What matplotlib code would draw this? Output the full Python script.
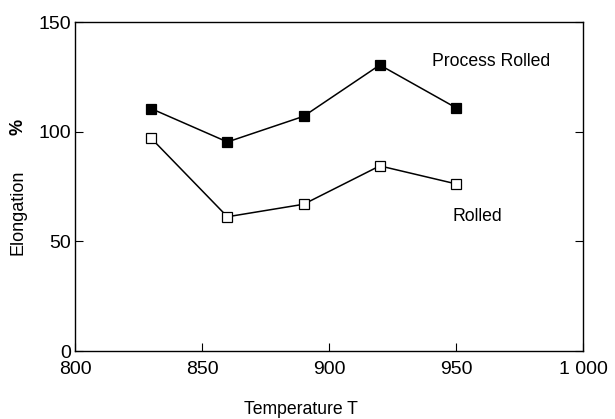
import matplotlib
matplotlib.use("Agg")
import matplotlib.pyplot as plt

plt.rcParams['font.family'] = ['Liberation Sans', 'DejaVu Sans']

temps = [830, 860, 890, 920, 950]
process_rolled = [110.5, 95.3, 107.0, 130.4, 110.9]
rolled = [97.0, 61.2, 66.9, 84.4, 76.2]

x_ticks = [800, 850, 900, 950, 1000]
x_tick_labels = ["800", "850", "900", "950", "1 000"]
y_ticks = [0, 50, 100, 150]
y_tick_labels = ["0", "50", "100", "150"]

fig = plt.figure(figsize=(6.15, 4.19), dpi=100)
ax = fig.add_axes([75/615, 1-351/419, (583-75)/615, (351-22)/419])

ax.plot(temps, process_rolled, color='black', lw=1.1, marker='s', ms=7.6,
        mfc='black', mec='black', mew=0.9)
ax.plot(temps, rolled, color='black', lw=1.1, marker='s', ms=7.6,
        mfc='white', mec='black', mew=0.9)

ax.set_xlim(800, 1000)
ax.set_ylim(0, 150)
ax.set_xticks(x_ticks)
ax.set_xticklabels(x_tick_labels)
ax.set_yticks(y_ticks)
ax.set_yticklabels(y_tick_labels)
ax.tick_params(direction='in', length=6, width=0.8, labelsize=14,
               left=True, right=True, bottom=True, top=False)
ax.tick_params(axis='x', pad=7)
ax.tick_params(axis='y', pad=3)
for s in ax.spines.values():
    s.set_linewidth(1.0)

fig.text(432/615, 1-62/419, "Process Rolled", fontsize=12.7, ha='left', va='center')
fig.text(452/615, 1-216/419, "Rolled", fontsize=12.7, ha='left', va='center')

fig.text(18/615, 1-212/419, "Elongation", rotation=90, ha='center', va='center', fontsize=13)
fig.text(18/615, 1-127/419, "%", rotation=90, ha='center', va='center', fontsize=13, fontweight='bold')
fig.text(301/615, 1-409/419, "Temperature T", ha='center', va='center', fontsize=12.7)

fig.savefig("out.png", dpi=100)
